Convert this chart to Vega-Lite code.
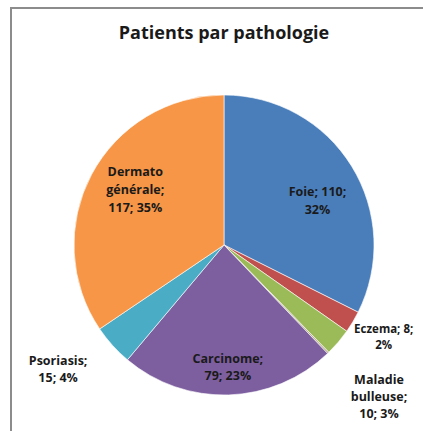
{
  "$schema": "https://vega.github.io/schema/vega-lite/v6.json",
  "width": 426,
  "height": 474,
  "autosize": {"type": "none"},
  "padding": {"left": 11, "top": 8, "right": 0, "bottom": 0},
  "background": "white",
  "view": {"stroke": "#8c8c8c", "strokeWidth": 2, "fill": "white"},
  "title": {
    "text": "Patients par pathologie",
    "font": "Open Sans",
    "fontSize": 18,
    "fontWeight": "bold",
    "color": "#1a1a1a",
    "anchor": "middle",
    "baseline": "middle",
    "dy": 48
  },
  "data": {
    "values": [
      {"cat": "Foie", "n": 110, "ord": 1, "label": "Foie; 110;\n32%"},
      {"cat": "Eczema", "n": 8, "ord": 2, "label": "Eczema; 8;\n2%"},
      {"cat": "Maladie bulleuse", "n": 10, "ord": 3, "label": "Maladie\nbulleuse;\n10; 3%"},
      {"cat": "Autre", "n": 0.6, "ord": 4, "label": ""},
      {"cat": "Carcinome", "n": 79, "ord": 5, "label": "Carcinome;\n79; 23%"},
      {"cat": "Psoriasis", "n": 15, "ord": 6, "label": "Psoriasis;\n15; 4%"},
      {"cat": "Dermato générale", "n": 117, "ord": 7, "label": "Dermato\ngénérale;\n117; 35%"}
    ]
  },
  "encoding": {
    "theta": {"field": "n", "type": "quantitative", "stack": true},
    "order": {"field": "ord", "type": "quantitative"}
  },
  "layer": [
    {
      "mark": {"type": "arc", "outerRadius": 150, "stroke": "white", "strokeWidth": 0.6},
      "encoding": {
        "color": {
          "field": "cat",
          "type": "nominal",
          "scale": {
            "domain": ["Foie", "Eczema", "Maladie bulleuse", "Autre", "Carcinome", "Psoriasis", "Dermato générale"],
            "range": ["#4a7ebb", "#c0504d", "#9bbb59", "#b8ab8c", "#7d5fa0", "#4bacc6", "#f79646"]
          },
          "legend": null
        }
      }
    },
    {
      "mark": {"type": "text", "radius": 104, "dx": 5, "dy": 2, "font": "Open Sans", "fontSize": 12.5, "fontWeight": "bold", "lineBreak": "\n", "lineHeight": 18, "color": "#1a1a1a"},
      "encoding": {"text": {"condition": {"test": "datum.cat == 'Foie'", "field": "label"}, "value": ""}}
    },
    {
      "mark": {"type": "text", "radius": 105, "dx": 4, "dy": -24, "font": "Open Sans", "fontSize": 12.5, "fontWeight": "bold", "lineBreak": "\n", "lineHeight": 18, "color": "#1a1a1a"},
      "encoding": {"text": {"condition": {"test": "datum.cat == 'Dermato générale'", "field": "label"}, "value": ""}}
    },
    {
      "mark": {"type": "text", "radius": 122, "dy": -8, "font": "Open Sans", "fontSize": 12.5, "fontWeight": "bold", "lineBreak": "\n", "lineHeight": 17, "color": "#1a1a1a"},
      "encoding": {"text": {"condition": {"test": "datum.cat == 'Carcinome'", "field": "label"}, "value": ""}}
    },
    {
      "mark": {"type": "text", "radius": 207, "dx": -12, "dy": -22, "font": "Open Sans", "fontSize": 12.5, "fontWeight": "bold", "lineBreak": "\n", "lineHeight": 17, "color": "#1a1a1a"},
      "encoding": {"text": {"condition": {"test": "datum.cat == 'Psoriasis'", "field": "label"}, "value": ""}}
    },
    {
      "mark": {"type": "text", "radius": 186, "dy": -10, "font": "Open Sans", "fontSize": 11.5, "fontWeight": "bold", "lineBreak": "\n", "lineHeight": 16, "color": "#1a1a1a"},
      "encoding": {"text": {"condition": {"test": "datum.cat == 'Eczema'", "field": "label"}, "value": ""}}
    },
    {
      "mark": {"type": "text", "radius": 214, "dx": -8, "dy": -4, "font": "Open Sans", "fontSize": 12.5, "fontWeight": "bold", "lineBreak": "\n", "lineHeight": 17, "color": "#1a1a1a"},
      "encoding": {"text": {"condition": {"test": "datum.cat == 'Maladie bulleuse'", "field": "label"}, "value": ""}}
    }
  ]
}
